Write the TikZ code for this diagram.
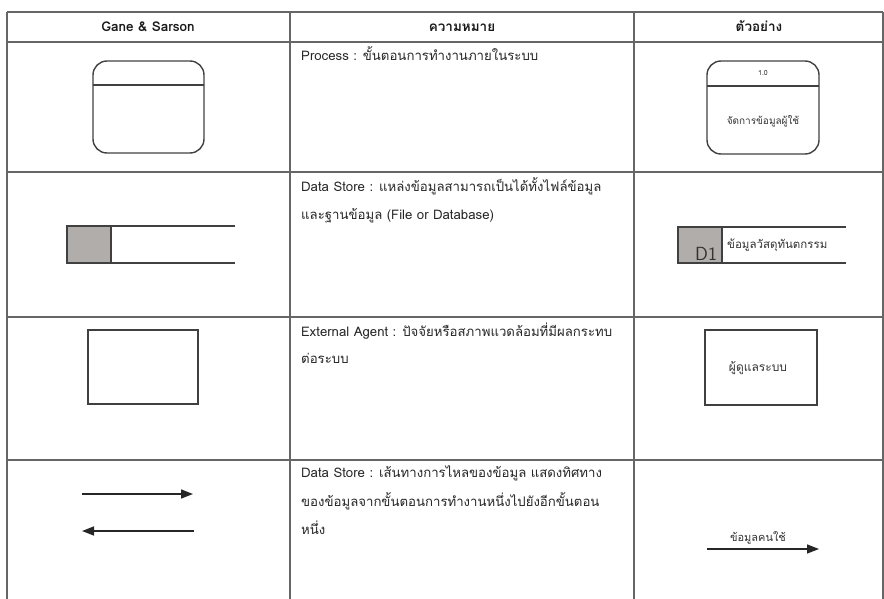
\documentclass[tikz,border=0pt]{standalone}
\usepackage{fontspec}
\usetikzlibrary{arrows.meta}
\newfontfamily\thai[Script=Thai]{Loma}
\definecolor{storegray}{HTML}{B1ADAB}
\begin{document}
\begin{tikzpicture}[x=1pt,y=-1pt,
  grid/.style={draw=black!60, line width=1.3pt},
  shp/.style={draw=black!75, line width=1.4pt},
  desc/.style={anchor=base west, inner sep=0, font=\thai\fontsize{13.2}{15}\selectfont, text=black!85},
  head/.style={anchor=base, inner sep=0, font=\thai\bfseries\fontsize{13.5}{15}\selectfont, text=black!90},
  small/.style={inner sep=0, font=\thai\fontsize{10.5}{12}\selectfont, text=black!80},
  flow/.style={draw=black!85, line width=1.6pt, -{Triangle[length=12pt,width=9pt]}},
  box/.style={shp, minimum width=110pt, minimum height=74pt, inner sep=0}
]
\useasboundingbox (0,0) rectangle (884,599);
% table grid
\draw[grid] (7,12) -- (883,12);
\draw[grid] (7,42) -- (883,42);
\draw[grid] (7,172) -- (883,172);
\draw[grid] (7,317) -- (883,317);
\draw[grid] (7,460) -- (883,460);
\draw[grid] (7,12) -- (7,599);
\draw[grid] (290,12) -- (290,599);
\draw[grid] (634,12) -- (634,599);
\draw[grid] (883,12) -- (883,599);
% headers
\node[head] (h1) at (148,32) {Gane \& Sarson};
\node[head] (h2) at (462,32) {ความหมาย};
\node[head] (h3) at (759,32) {ตัวอย่าง};
% descriptions
\node[desc] (d1) at (301,61) {Process : ขั้นตอนการทำงานภายในระบบ};
\node[desc] (d2a) at (301,192) {Data Store : แหล่งข้อมูลสามารถเป็นได้ทั้งไฟล์ข้อมูล};
\node[desc] (d2b) at (301,219) {และฐานข้อมูล (File or Database)};
\node[desc] (d3a) at (301,336) {External Agent : ปัจจัยหรือสภาพแวดล้อมที่มีผลกระทบ};
\node[desc] (d3b) at (301,363) {ต่อระบบ};
\node[desc] (d4a) at (301,477) {Data Store : เส้นทางการไหลของข้อมูล แสดงทิศทาง};
\node[desc] (d4b) at (301,506) {ของข้อมูลจากขั้นตอนการทำงานหนึ่งไปยังอีกขั้นตอน};
\node[desc] (d4c) at (301,534) {หนึ่ง};
% row 1: process
\draw[shp, rounded corners=14pt] (93,61) rectangle (204,153);
\draw[shp] (93,85) -- (204,85);
\draw[shp, rounded corners=14pt] (707,61) rectangle (819,154);
\draw[shp] (707,86) -- (819,86);
\node[small, font=\thai\fontsize{7}{8}\selectfont] (p1) at (763,73) {1.0};
\node[small, font=\thai\fontsize{10}{12}\selectfont] (p2) at (763,121) {จัดการข้อมูลผู้ใช้};
% row 2: data store
\filldraw[shp, fill=storegray] (67,226) rectangle (111,263);
\draw[shp] (67,226) -- (235,226);
\draw[shp] (67,263) -- (235,263);
\filldraw[shp, fill=storegray] (678,227) rectangle (722,263);
\draw[shp] (678,227) -- (846,227);
\draw[shp] (678,263) -- (846,263);
\node[anchor=base west, inner sep=0, font=\fontsize{19}{20}\selectfont\sffamily, text=black!80] (s1) at (695,260) {D1};
\node[small, anchor=base west, font=\thai\fontsize{11.5}{13}\selectfont] (s2) at (727,248) {ข้อมูลวัสดุทันตกรรม};
% row 3: external agent
\node[box] (e1) at (143,367) {};
\node[box, minimum width=112pt, minimum height=75pt] (e2) at (761,367.5) {};
\node[small, font=\thai\fontsize{12}{13}\selectfont] (e3) at (758,368) {ผู้ดูแลระบบ};
% row 4: data flow
\coordinate (a1s) at (82,494);
\coordinate (a1e) at (193,494);
\coordinate (a2s) at (194,531);
\coordinate (a2e) at (82,531);
\draw[flow] (a1s) -- (a1e);
\draw[flow] (a2s) -- (a2e);
\coordinate (a3s) at (707,549);
\coordinate (a3e) at (819,549);
\draw[flow] (a3s) -- (a3e);
\node[small, font=\thai\fontsize{11}{12}\selectfont] (a3l) at (758,538) {ข้อมูลคนใช้};
\end{tikzpicture}
\end{document}
